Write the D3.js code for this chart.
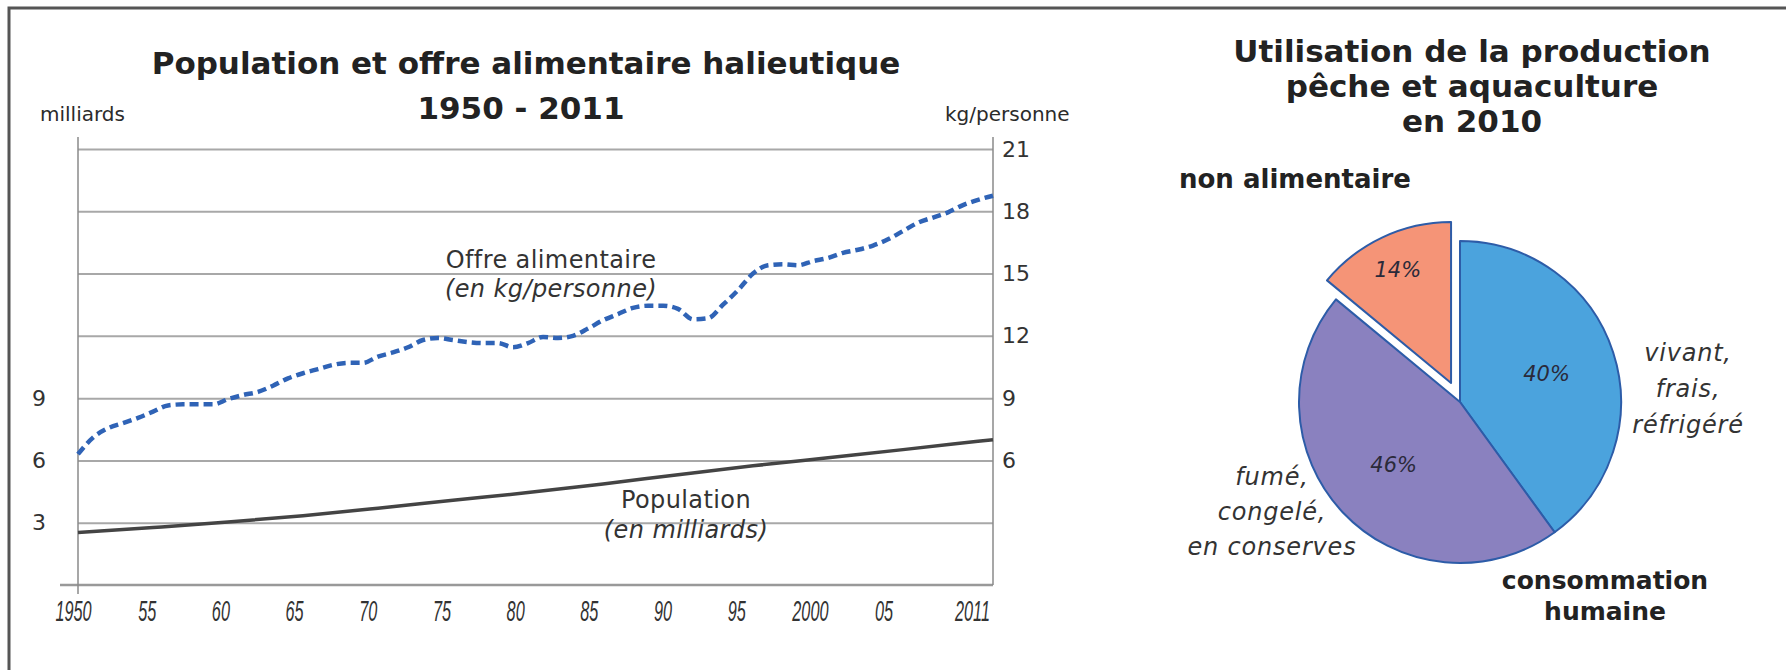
<!doctype html>
<html>
<head>
<meta charset="utf-8">
<title>Population et offre alimentaire halieutique</title>
<script src="https://cdnjs.cloudflare.com/ajax/libs/d3/7.8.5/d3.min.js"></script>
<style>
  html, body { margin: 0; padding: 0; background: #fff; }
  svg { display: block; }
  text { fill: #2b2b2b; font-family: 'DejaVu Sans', sans-serif; }
  .ttl { font-weight: bold; fill: #222; }
  .grid line { stroke: #a8a8a8; stroke-width: 2; }
  .grid path { display: none; }
  .yax path, .yax line, .xax path, .xax line { display: none; }
  .yax text { font-size: 22px; fill: #333; }
  .xax text { font-family: 'Liberation Sans', sans-serif; font-style: italic; font-size: 29px; fill: #333; }
  .lbl { font-size: 24px; letter-spacing: 0.4px; fill: #333; }
  .pct { font-style: italic; font-size: 21px; fill: #2a2a3a; }
  .cat { font-style: italic; font-size: 24px; letter-spacing: 0.8px; fill: #333; }
</style>
</head>
<body>
<div id="chart"></div>
<script>
// ---- data ----
var years = [1950,1951,1952,1953,1954,1955,1956,1957,1958,1959,
             1960,1961,1962,1963,1964,1965,1966,1967,1968,1969,
             1970,1971,1972,1973,1974,1975,1976,1977,1978,1979,
             1980,1981,1982,1983,1984,1985,1986,1987,1988,1989,
             1990,1991,1992,1993,1994,1995,1996,1997,1998,1999,
             2000,2001,2002,2003,2004,2005,2006,2007,2008,2009,
             2010,2011];
// offre alimentaire, kg/personne
var offre = [6.3,7.1,7.55,7.8,8.05,8.35,8.65,8.7,8.7,8.7,
             8.95,9.15,9.3,9.6,9.95,10.2,10.4,10.6,10.7,10.7,
             11.0,11.2,11.45,11.8,11.9,11.8,11.7,11.65,11.65,11.45,
             11.65,11.95,11.9,12.0,12.35,12.75,13.05,13.35,13.45,13.45,
             13.3,12.8,12.85,13.5,14.2,15.0,15.4,15.45,15.4,15.6,
             15.75,16.0,16.15,16.35,16.65,17.05,17.45,17.7,17.95,18.3,
             18.55,18.75];
// population, milliards
var popYears = [1950,1955,1960,1965,1970,1975,1980,1985,1990,1995,2000,2005,2010,2011];
var population = [2.53,2.77,3.03,3.34,3.70,4.08,4.45,4.87,5.31,5.74,6.13,6.52,6.92,7.0];

var xTicks = [1950,1955,1960,1965,1970,1975,1980,1985,1990,1995,2000,2005,2011];
var xTickLabels = ["1950","55","60","65","70","75","80","85","90","95","2000","05","2011"];
var gridTicks = [3,6,9,12,15,18,21];
var rightTicks = [6,9,12,15,18,21];
var leftTicks = [3,6,9];

// pie: utilisation 2010
var pieCats = ["vivant, frais, réfrigéré", "fumé, congelé, en conserves", "non alimentaire"];
var pieVals = [40, 46, 14];
var pieColors = ["#4ba3dd", "#8a81bf", "#f59477"];

// ---- drawing ----
var W = 1786, H = 670;
var svg = d3.select("#chart").append("svg").attr("width", W).attr("height", H);

// frame (top and left edge)
svg.append("path").attr("d", "M9,670 V8 H1786")
  .attr("fill", "none").attr("stroke", "#555").attr("stroke-width", 3);

var x = d3.scaleLinear([1950, 2011], [78, 993]);
var xLab = d3.scaleLinear([1950, 2011], [73, 972]);
var y = d3.scaleLinear([0, 21], [585, 149]);

svg.append("text").attr("class", "ttl").attr("x", 526).attr("y", 74)
  .attr("text-anchor", "middle").style("font-size", "31px").text("Population et offre alimentaire halieutique");
svg.append("text").attr("class", "ttl").attr("x", 521).attr("y", 119)
  .attr("text-anchor", "middle").style("font-size", "31px").text("1950 - 2011");
svg.append("text").attr("x", 40).attr("y", 121).style("font-size", "20px").text("milliards");
svg.append("text").attr("x", 945).attr("y", 121).style("font-size", "20px").text("kg/personne");

// grid
svg.append("g").attr("class", "grid")
  .attr("transform", "translate(" + x.range()[0] + ",0)")
  .call(d3.axisRight(y).tickValues(gridTicks).tickSize(x.range()[1] - x.range()[0]).tickFormat(""));

// axes lines
svg.append("line").attr("x1", 60).attr("x2", 993).attr("y1", y(0)).attr("y2", y(0))
  .attr("stroke", "#999").attr("stroke-width", 2.5);
svg.append("line").attr("x1", 78).attr("x2", 78).attr("y1", 137).attr("y2", 594)
  .attr("stroke", "#8a8a8a").attr("stroke-width", 1.5);
svg.append("line").attr("x1", 993).attr("x2", 993).attr("y1", 137).attr("y2", 585)
  .attr("stroke", "#8a8a8a").attr("stroke-width", 1.5);

svg.append("g").attr("class", "yax").attr("transform", "translate(993,0)")
  .call(d3.axisRight(y).tickValues(rightTicks).tickSize(0).tickPadding(9));
svg.append("g").attr("class", "yax").attr("transform", "translate(78,0)")
  .call(d3.axisLeft(y).tickValues(leftTicks).tickSize(0).tickPadding(32));

var xg = svg.append("g").attr("class", "xax").attr("transform", "translate(0," + y(0) + ")")
  .call(d3.axisBottom(xLab).tickValues(xTicks).tickSize(0).tickPadding(15)
    .tickFormat(function (d, i) { return xTickLabels[i]; }));
xg.selectAll("text").attr("transform", "scale(0.56,1)");

// lines
var offreLine = d3.line().x(function (d, i) { return x(years[i]); }).y(function (d) { return y(d); })
  .curve(d3.curveMonotoneX);
svg.append("path").datum(offre).attr("d", offreLine)
  .attr("fill", "none").attr("stroke", "#2f63b6").attr("stroke-width", 4.5)
  .attr("stroke-dasharray", "9,5");

var popLine = d3.line().x(function (d, i) { return x(popYears[i]); }).y(function (d) { return y(d); })
  .curve(d3.curveMonotoneX);
svg.append("path").datum(population).attr("d", popLine)
  .attr("fill", "none").attr("stroke", "#444").attr("stroke-width", 3.5);

svg.append("text").attr("class", "lbl").attr("x", 551).attr("y", 268).attr("text-anchor", "middle").text("Offre alimentaire");
svg.append("text").attr("class", "lbl").attr("x", 551).attr("y", 297).attr("text-anchor", "middle")
  .style("font-style", "italic").text("(en kg/personne)");
svg.append("text").attr("class", "lbl").attr("x", 686).attr("y", 508).attr("text-anchor", "middle").text("Population");
svg.append("text").attr("class", "lbl").attr("x", 686).attr("y", 538).attr("text-anchor", "middle")
  .style("font-style", "italic").text("(en milliards)");

// ---- pie ----
var cx = 1460, cy = 402, R = 161;
svg.append("text").attr("class", "ttl").attr("x", 1472).attr("y", 62).attr("text-anchor", "middle")
  .style("font-size", "31px").text("Utilisation de la production");
svg.append("text").attr("class", "ttl").attr("x", 1472).attr("y", 97).attr("text-anchor", "middle")
  .style("font-size", "31px").text("pêche et aquaculture");
svg.append("text").attr("class", "ttl").attr("x", 1472).attr("y", 132).attr("text-anchor", "middle")
  .style("font-size", "31px").text("en 2010");

var pie = d3.pie().sort(null).value(function (d) { return d; });
var arcs = pie(pieVals);
var arc = d3.arc().innerRadius(0).outerRadius(R);
var explode = 21;

function shift(d, i) {
  if (i !== 2) return [0, 0];
  var a = (d.startAngle + d.endAngle) / 2;
  return [Math.sin(a) * explode, -Math.cos(a) * explode];
}

var pg = svg.append("g").attr("transform", "translate(" + cx + "," + cy + ")");
pg.selectAll("path").data(arcs).join("path")
  .attr("transform", function (d, i) { var s = shift(d, i); return "translate(" + s[0] + "," + s[1] + ")"; })
  .attr("d", arc)
  .attr("fill", function (d, i) { return pieColors[i]; })
  .attr("stroke", "#2d5ca8").attr("stroke-width", 2).attr("stroke-linejoin", "round");

pg.selectAll("text.pct").data(arcs).join("text").attr("class", "pct")
  .attr("transform", function (d, i) {
    var s = shift(d, i);
    var r = i === 2 ? 125 : 91;
    var c = d3.arc().innerRadius(r).outerRadius(r).centroid(d);
    return "translate(" + (c[0] + s[0]) + "," + (c[1] + s[1]) + ")";
  })
  .attr("text-anchor", "middle").attr("dy", "0.35em")
  .text(function (d) { return d.data + "%"; });

// category labels
svg.append("text").attr("class", "ttl").attr("x", 1179).attr("y", 188).style("font-size", "26px").text(pieCats[2]);

var lblA = pieCats[0].split(" ");
svg.append("g").selectAll("text").data(lblA).join("text").attr("class", "cat")
  .attr("x", 1688).attr("y", function (d, i) { return 361 + i * 36; })
  .attr("text-anchor", "middle").text(function (d) { return d; });

var lblB = ["fumé,", "congelé,", "en conserves"];
svg.append("g").selectAll("text").data(lblB).join("text").attr("class", "cat")
  .attr("x", 1272).attr("y", function (d, i) { return 485 + i * 35; })
  .attr("text-anchor", "middle").text(function (d) { return d; });

svg.append("text").attr("class", "ttl").attr("x", 1605).attr("y", 589).attr("text-anchor", "middle")
  .style("font-size", "25px").text("consommation");
svg.append("text").attr("class", "ttl").attr("x", 1605).attr("y", 620).attr("text-anchor", "middle")
  .style("font-size", "25px").text("humaine");
</script>
</body>
</html>
